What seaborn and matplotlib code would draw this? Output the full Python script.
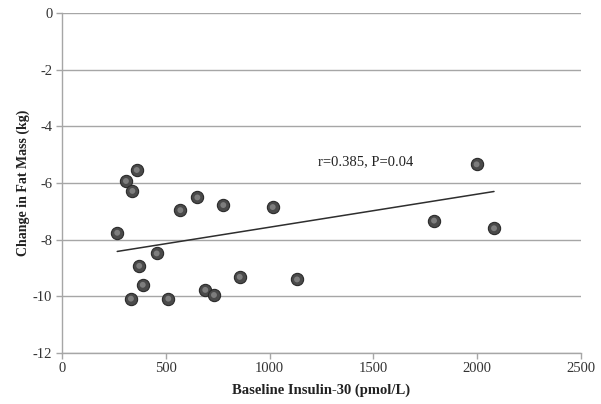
# Baseline insulin-30 vs change in fat mass (scatter + trendline)

import numpy as np
import pandas as pd
import matplotlib
matplotlib.use('Agg')
import matplotlib.pyplot as plt
import seaborn as sns

# ── Data ──────────────────────────────────────
insulin_30 = [360, 308, 339, 652, 570, 777, 1015, 266, 456, 372,
              389, 856, 1132, 332, 512, 690, 732, 1997, 1792, 2081]
fat_change = [-5.54, -5.93, -6.28, -6.51, -6.96, -6.78, -6.85, -7.76,
              -8.49, -8.93, -9.60, -9.32, -9.41, -10.09, -10.09, -9.78,
              -9.96, -5.34, -7.33, -7.60]

trend_x = [266, 2081]
trend_y = [-8.42, -6.30]

x_ticks = [0, 500, 1000, 1500, 2000, 2500]
y_ticks = [0, -2, -4, -6, -8, -10, -12]

df = pd.DataFrame({'Insulin': insulin_30, 'FatMass': fat_change})

# ── Style ─────────────────────────────────────
sns.set_style('white')
plt.rcParams['font.family'] = ['Liberation Serif', 'DejaVu Serif']

fig = plt.figure(figsize=(6.01, 4.04), dpi=100)
ax = fig.add_axes([62 / 601, 51.3 / 404, 519 / 601, 339.4 / 404])

grid_col = '#a6a6a6'
for yv in y_ticks:
    ax.axhline(yv, color=grid_col, linewidth=1.0, zorder=0)

# spheres: dark ball + lighter highlight
sns.scatterplot(data=df, x='Insulin', y='FatMass', ax=ax,
                s=78, color='#4a4a4a', edgecolor='#2b2b2b',
                linewidth=0.8, zorder=3, legend=False)
sns.scatterplot(data=df, x='Insulin', y='FatMass', ax=ax,
                s=18, color='#7d7d7d', edgecolor='none',
                zorder=4, legend=False)

# trendline
sns.lineplot(x=trend_x, y=trend_y, ax=ax, color='#2e2e2e',
             linewidth=1.1, zorder=2)

ax.text(1464, -5.25, 'r=0.385, P=0.04', fontsize=10.5,
        color='#222222', ha='center', va='center')

ax.set_xlim(0, 2500)
ax.set_ylim(-12, 0)
ax.set_xticks(x_ticks)
ax.set_yticks(y_ticks)
ax.set_xticklabels([str(t) for t in x_ticks])
ax.set_yticklabels([str(t) for t in y_ticks])

for side in ['top', 'right']:
    ax.spines[side].set_visible(False)
for side in ['left', 'bottom']:
    ax.spines[side].set_color(grid_col)
    ax.spines[side].set_linewidth(1.0)

ax.tick_params(axis='both', direction='out', length=4, width=1,
               color=grid_col, labelsize=10.5, labelcolor='#333333',
               left=True, bottom=True, pad=3)

ax.set_xlabel('Baseline Insulin-30 (pmol/L)', fontsize=10.5,
              fontweight='bold', color='#222222', labelpad=6)
ax.set_ylabel('Change in Fat Mass (kg)', fontsize=10,
              fontweight='bold', color='#222222', labelpad=2)

fig.savefig('out.png', dpi=100)
